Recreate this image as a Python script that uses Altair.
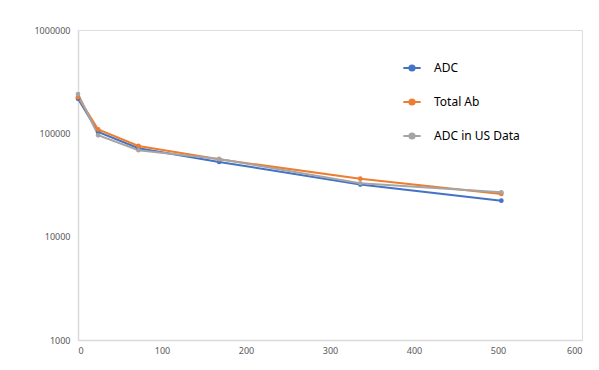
import altair as alt
import pandas as pd

hours = [0, 24, 72, 168, 336, 504]
adc = [216000, 103000, 71800, 52900, 31900, 22300]
total_ab = [224000, 109000, 75500, 56000, 36400, 25900]
adc_us = [240000, 95700, 68600, 56500, 32900, 26900]

series = ["ADC", "Total Ab", "ADC in US Data"]
colors = ["#4472C4", "#ED7D31", "#A5A5A5"]

rows = []
for name, vals in zip(series, [adc, total_ab, adc_us]):
    for h, v in zip(hours, vals):
        rows.append({"Time": h, "Value": v, "Series": name})
df = pd.DataFrame(rows)

sym = "M-1,0H1M0.3,0A0.3,0.3,0,1,1,-0.3,0A0.3,0.3,0,1,1,0.3,0"

color = alt.Color(
    "Series:N",
    scale=alt.Scale(domain=series, range=colors),
    sort=series,
    legend=alt.Legend(
        title=None,
        orient="none",
        legendX=324,
        legendY=28,
        symbolType=sym,
        symbolSize=300,
        symbolStrokeWidth=2,
        rowPadding=17,
        labelFontSize=12,
        labelColor="#000000",
        labelFont="Noto Sans",
        labelOffset=12,
    ),
)

base = alt.Chart(df).encode(
    x=alt.X(
        "Time:Q",
        scale=alt.Scale(domain=[0, 600], nice=False),
        axis=alt.Axis(
            values=[0, 100, 200, 300, 400, 500, 600],
            title=None,
            grid=False,
            ticks=False,
            domainColor="#D9D9D9",
            domainWidth=1.5,
            labelColor="#595959",
            labelFontSize=9,
            labelPadding=6,
        ),
    ),
    y=alt.Y(
        "Value:Q",
        scale=alt.Scale(type="log", domain=[1000, 1000000], nice=False),
        axis=alt.Axis(
            values=[1000, 10000, 100000, 1000000],
            format="d",
            title=None,
            grid=False,
            ticks=False,
            domainColor="#D9D9D9",
            domainWidth=1.5,
            labelColor="#595959",
            labelFontSize=9,
            labelPadding=8,
        ),
    ),
    color=color,
    order=alt.Order("Time:Q"),
)

lines = base.mark_line(strokeWidth=2)
points = base.mark_point(filled=True, size=22, opacity=1)

chart = (
    alt.layer(lines, points)
    .properties(
        width=504,
        height=310,
        autosize=alt.AutoSizeParams(type="none"),
        padding={"left": 70, "top": 22, "right": 5, "bottom": 30},
    )
    .configure_view(stroke=None)
    .configure(font="Noto Sans")
)

chart.save("out.html", embed_options={"renderer": "svg", "actions": False})
